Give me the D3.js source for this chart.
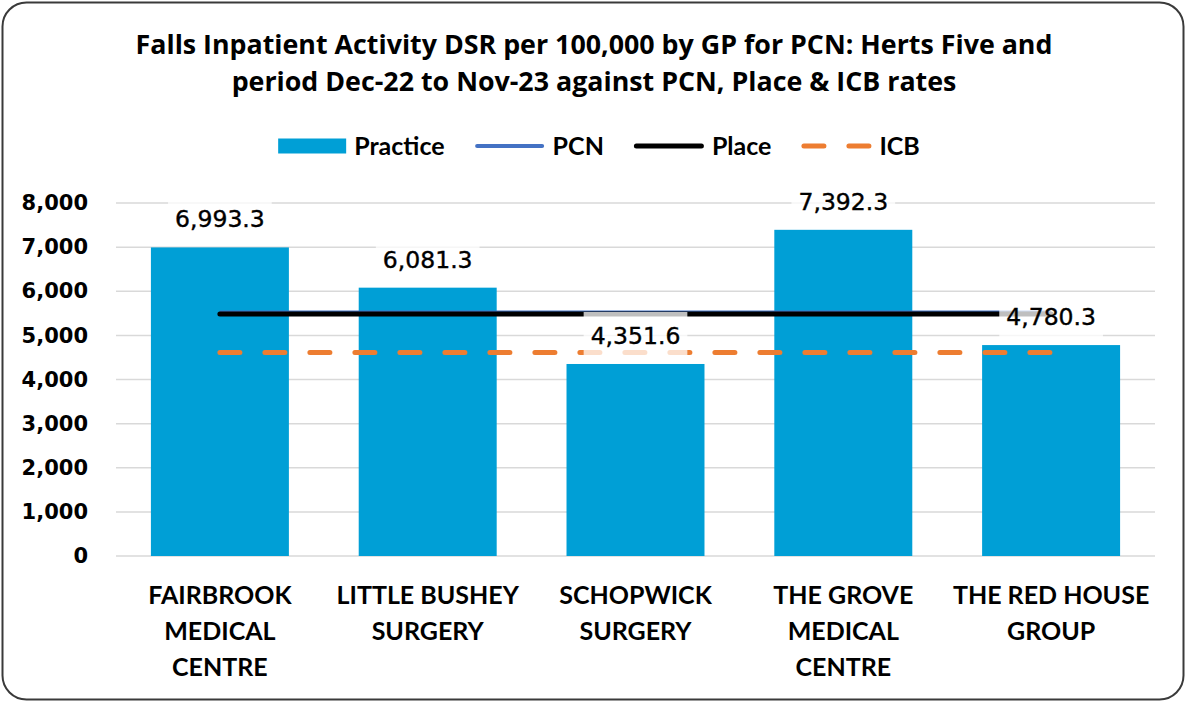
<!DOCTYPE html>
<html>
<head>
<meta charset="utf-8">
<script src="https://cdn.jsdelivr.net/npm/d3@7"></script>
<style>
  body { margin: 0; background: #fff; }
  svg { display: block; }
</style>
</head>
<body>
<script>
// chart values
const categories = ["FAIRBROOK MEDICAL CENTRE", "LITTLE BUSHEY SURGERY", "SCHOPWICK SURGERY", "THE GROVE MEDICAL CENTRE", "THE RED HOUSE GROUP"];
const practice = [6993.3, 6081.3, 4351.6, 7392.3, 4780.3];
const pcn = [5520, 5520, 5520, 5520, 5520];
const place = [5483, 5483, 5483, 5483, 5483];
const icb = [4612, 4612, 4612, 4612, 4612];
const yTicks = [0, 1000, 2000, 3000, 4000, 5000, 6000, 7000, 8000];
const titleLines = ["Falls Inpatient Activity DSR per 100,000 by GP for PCN: Herts Five and",
  "period Dec-22 to Nov-23 against PCN, Place & ICB rates"];
const legendItems = ["Practice", "PCN", "Place", "ICB"];

const width = 1186, height = 702;
const font = "Lato, 'Open Sans', sans-serif";
const barColor = "#009FD6";
const colors = {Practice: barColor, PCN: "#4472C4", Place: "#000000", ICB: "#ED7D31"};

const svg = d3.select("body").append("svg")
  .attr("width", width)
  .attr("height", height)
  .style("font-family", font);

// outer rounded frame
svg.append("rect")
  .attr("x", 2.5).attr("y", 2.5)
  .attr("width", width - 5).attr("height", height - 5)
  .attr("rx", 24)
  .attr("fill", "#fff")
  .attr("stroke", "#3a3a3a")
  .attr("stroke-width", 2);

// title
svg.append("g").selectAll("text").data(titleLines).enter().append("text")
  .attr("x", 594)
  .attr("y", (d, i) => 54 + i * 37)
  .attr("text-anchor", "middle")
  .style("font-family", "'Open Sans', sans-serif")
  .style("font-size", "26.8px")
  .style("font-weight", "bold")
  .style("fill", "#000")
  .text(d => d);

const x = d3.scaleBand()
  .domain(categories)
  .range([116, 1155])
  .paddingInner(0.336)
  .paddingOuter(0.168);

const y = d3.scaleLinear()
  .domain([0, 8000])
  .range([556, 203]);

// gridlines
svg.append("g").selectAll("line").data(yTicks).enter().append("line")
  .attr("x1", 116).attr("x2", 1155)
  .attr("y1", d => y(d)).attr("y2", d => y(d))
  .attr("stroke", "#d9d9d9")
  .attr("stroke-width", 1.5);

// y axis labels
const yAxis = d3.axisLeft(y)
  .tickValues(yTicks)
  .tickFormat(d3.format(","))
  .tickSize(0)
  .tickPadding(0);

const yg = svg.append("g")
  .attr("transform", "translate(88,0)")
  .call(yAxis);
yg.select(".domain").remove();
yg.selectAll("text")
  .style("font-family", "'DejaVu Sans', sans-serif")
  .style("font-size", "21px")
  .style("font-weight", "bold")
  .style("fill", "#000");

// bars
svg.append("g").selectAll("rect").data(practice).enter().append("rect")
  .attr("x", (d, i) => x(categories[i]))
  .attr("y", d => y(d))
  .attr("width", x.bandwidth())
  .attr("height", d => y(0) - y(d))
  .attr("fill", barColor);

const cx = i => x(categories[i]) + x.bandwidth() / 2;
const lineGen = d3.line().x((d, i) => cx(i)).y(d => y(d));

svg.append("path").datum(pcn)
  .attr("d", lineGen)
  .attr("fill", "none")
  .attr("stroke", colors.PCN)
  .attr("stroke-width", 4);

svg.append("path").datum(place)
  .attr("d", lineGen)
  .attr("fill", "none")
  .attr("stroke", colors.Place)
  .attr("stroke-width", 5)
  .attr("stroke-linecap", "round");

svg.append("path").datum(icb)
  .attr("d", lineGen)
  .attr("fill", "none")
  .attr("stroke", colors.ICB)
  .attr("stroke-width", 5)
  .attr("stroke-dasharray", "20 25")
  .attr("stroke-linecap", "round");

// data labels with semi-transparent white box
const fmt = d3.format(",.1f");
const labels = svg.append("g").selectAll("g").data(practice).enter().append("g")
  .attr("transform", (d, i) => `translate(${cx(i)},${y(d) - 20})`);

labels.append("rect").attr("class", "bg");
labels.append("text")
  .attr("text-anchor", "middle")
  .style("font-family", "'DejaVu Sans', sans-serif")
  .style("font-size", "23.5px")
  .style("fill", "#000")
  .style("stroke", "#000")
  .style("stroke-width", 0.4)
  .text(d => fmt(d));

labels.each(function() {
  const g = d3.select(this);
  const w = g.select("text").node().getComputedTextLength();
  g.select("rect.bg")
    .attr("x", -w / 2 - 7)
    .attr("y", -32)
    .attr("width", w + 14)
    .attr("height", 45)
    .attr("fill", "#fff")
    .attr("fill-opacity", 0.75);
});

// category labels, wrapped
const catSize = "25px";
const cats = svg.append("g").selectAll("text").data(categories).enter().append("text")
  .attr("text-anchor", "middle")
  .style("font-size", catSize)
  .style("font-weight", "bold")
  .style("fill", "#000");

cats.each(function(d, i) {
  const t = d3.select(this);
  const words = d.split(" ");
  const lines = [];
  let cur = [];
  const probe = svg.append("text").style("font-size", catSize).style("font-weight", "bold");
  words.forEach(w => {
    const test = cur.concat([w]).join(" ");
    probe.text(test);
    if (probe.node().getComputedTextLength() > 205 && cur.length) {
      lines.push(cur.join(" "));
      cur = [w];
    } else {
      cur.push(w);
    }
  });
  lines.push(cur.join(" "));
  probe.remove();
  lines.forEach((l, j) => {
    t.append("tspan")
      .attr("x", cx(i))
      .attr("y", 604 + j * 36)
      .text(l);
  });
});

// legend
const legend = svg.append("g");
let lx = 0;
legendItems.forEach(name => {
  const g = legend.append("g").attr("transform", `translate(${lx},0)`);
  let sw = 70;
  if (name === "Practice") {
    sw = 68;
    g.append("rect").attr("x", 0).attr("y", -7.5).attr("width", sw).attr("height", 15)
      .attr("fill", colors.Practice);
  } else {
    const ln = g.append("line").attr("x1", 2.5).attr("x2", sw - 2.5).attr("y1", 0).attr("y2", 0)
      .attr("stroke", colors[name])
      .attr("stroke-width", name === "PCN" ? 4 : 5)
      .attr("stroke-linecap", "round");
    if (name === "ICB") ln.attr("stroke-dasharray", "20 25");
  }
  const tx = g.append("text").attr("x", sw + 8).attr("y", 9)
    .style("font-size", "25px").style("font-weight", "bold").style("fill", "#000")
    .text(name);
  lx += sw + 8 + tx.node().getComputedTextLength() + 30;
});
lx -= 30;
legend.attr("transform", `translate(${599 - lx / 2},146)`);
</script>
</body>
</html>
